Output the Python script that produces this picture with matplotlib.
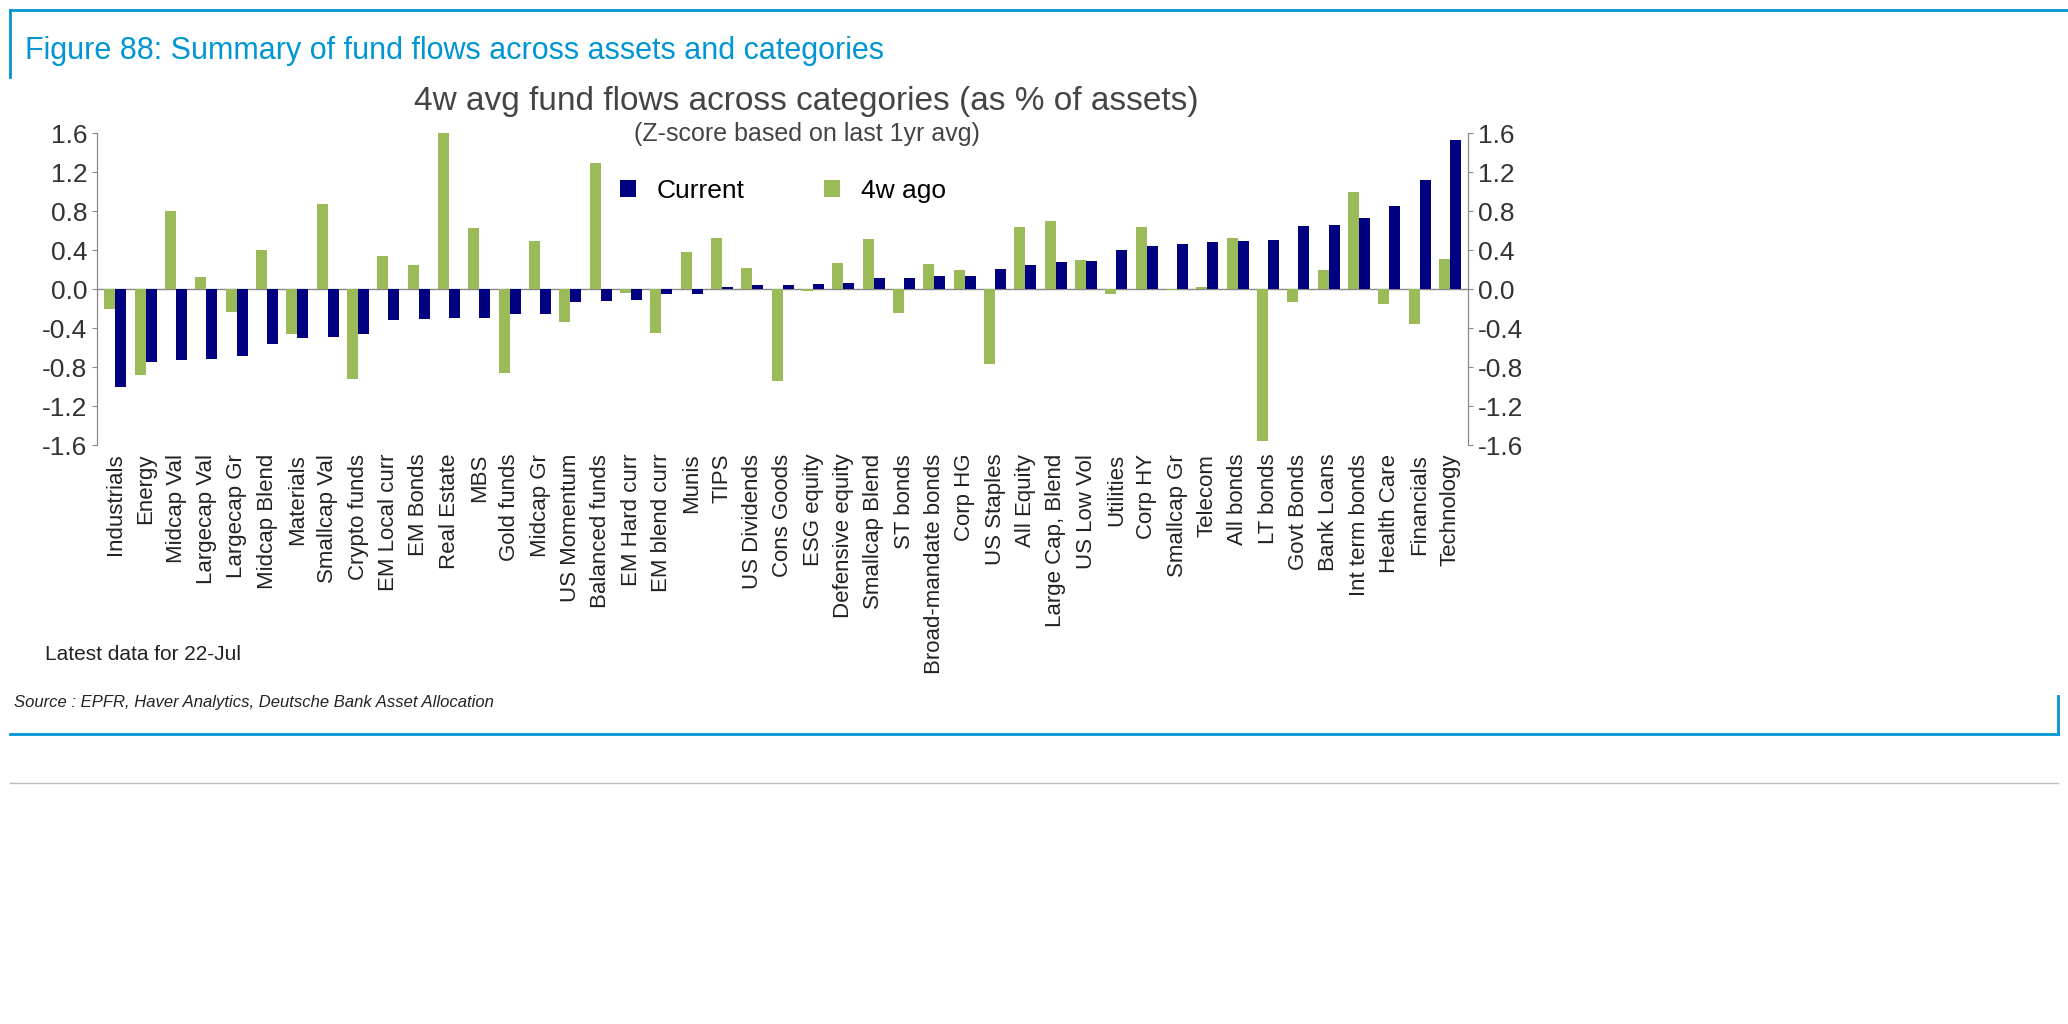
import matplotlib
matplotlib.use("Agg")
import matplotlib.pyplot as plt
import numpy as np

categories = ["Industrials","Energy","Midcap Val","Largecap Val","Largecap Gr","Midcap Blend","Materials","Smallcap Val","Crypto funds","EM Local curr","EM Bonds","Real Estate","MBS","Gold funds","Midcap Gr","US Momentum","Balanced funds","EM Hard curr","EM blend curr","Munis","TIPS","US Dividends","Cons Goods","ESG equity","Defensive equity","Smallcap Blend","ST bonds","Broad-mandate bonds","Corp HG","US Staples","All Equity","Large Cap, Blend","US Low Vol","Utilities","Corp HY","Smallcap Gr","Telecom","All bonds","LT bonds","Govt Bonds","Bank Loans","Int term bonds","Health Care","Financials","Technology"]
current = [-1.0,-0.75,-0.72,-0.71,-0.68,-0.56,-0.5,-0.49,-0.46,-0.31,-0.30,-0.29,-0.29,-0.25,-0.25,-0.13,-0.12,-0.11,-0.05,-0.05,0.02,0.04,0.04,0.05,0.06,0.12,0.12,0.14,0.14,0.21,0.25,0.28,0.29,0.40,0.44,0.46,0.48,0.49,0.51,0.65,0.66,0.73,0.85,1.12,1.53]
ago4w = [-0.2,-0.88,0.8,0.13,-0.23,0.40,-0.46,0.87,-0.92,0.34,0.25,1.6,0.63,-0.86,0.49,-0.34,1.29,-0.04,-0.45,0.38,0.53,0.22,-0.94,-0.02,0.27,0.52,-0.24,0.26,0.20,-0.77,0.64,0.70,0.30,-0.05,0.64,-0.01,0.02,0.53,-1.55,-0.13,0.20,1.00,-0.15,-0.36,0.31]
yticks = [-1.6, -1.2, -0.8, -0.4, 0.0, 0.4, 0.8, 1.2, 1.6]
ytick_labels = ["-1.6", "-1.2", "-0.8", "-0.4", "0.0", "0.4", "0.8", "1.2", "1.6"]

plt.rcParams['font.family'] = ['Liberation Sans', 'DejaVu Sans']
fig = plt.figure(figsize=(20.68, 10.24), dpi=100)
ax = fig.add_axes([0.047, 0.565, 0.663, 0.305])
x = np.arange(len(categories))
w = 0.36
ax.bar(x - w/2, ago4w, w, color="#9BBB59", label="4w ago", zorder=2)
ax.bar(x + w/2, current, w, color="#000080", label="Current", zorder=3)
ax.axhline(0, color="#888888", lw=1, zorder=1)
ax.set_xlim(-0.6, len(categories) - 0.4)
ax.set_ylim(-1.6, 1.6)
ax.set_yticks(yticks)
ax.set_yticklabels(ytick_labels, fontsize=19, color="#333333")
ax.set_xticks(x)
ax.set_xticklabels(categories, rotation=90, fontsize=16, color="#222222")
ax.tick_params(axis='x', length=0, pad=6)
ax2 = ax.twinx()
ax2.set_ylim(-1.6, 1.6)
ax2.set_yticks(yticks)
ax2.set_yticklabels(ytick_labels, fontsize=19, color="#333333")
for a in (ax, ax2):
    a.spines["top"].set_visible(False)
    a.spines["bottom"].set_visible(False)
    a.spines["left"].set_color("#888888")
    a.spines["right"].set_color("#888888")
    a.tick_params(axis='y', color="#888888")
h, l = ax.get_legend_handles_labels()
ax.legend([h[1], h[0]], [l[1], l[0]], loc="upper center", bbox_to_anchor=(0.5, 0.93), ncol=2,
          frameon=False, fontsize=19, handlelength=0.6, handleheight=0.6, columnspacing=3)
fig.text(0.39, 0.893, "4w avg fund flows across categories (as % of assets)", ha="center", fontsize=24, color="#444444")
fig.text(0.39, 0.862, "(Z-score based on last 1yr avg)", ha="center", fontsize=18, color="#444444")
fig.text(0.012, 0.95, "Figure 88: Summary of fund flows across assets and categories", fontsize=22, color="#0096D6", va="center")
fig.text(0.022, 0.355, "Latest data for 22-Jul", fontsize=15, color="#222222")
fig.text(0.007, 0.31, "Source : EPFR, Haver Analytics, Deutsche Bank Asset Allocation", fontsize=12, style="italic", color="#222222")
fig.add_artist(plt.Line2D([0.005, 1.0], [0.99, 0.99], color="#0096D6", lw=2))
fig.add_artist(plt.Line2D([0.005, 0.005], [0.99, 0.925], color="#0096D6", lw=2))
fig.add_artist(plt.Line2D([0.005, 0.995], [0.283, 0.283], color="#0096D6", lw=2))
fig.add_artist(plt.Line2D([0.995, 0.995], [0.283, 0.32], color="#0096D6", lw=2))
fig.add_artist(plt.Line2D([0.005, 0.995], [0.235, 0.235], color="#BBBBBB", lw=1))
fig.savefig("out.png")
